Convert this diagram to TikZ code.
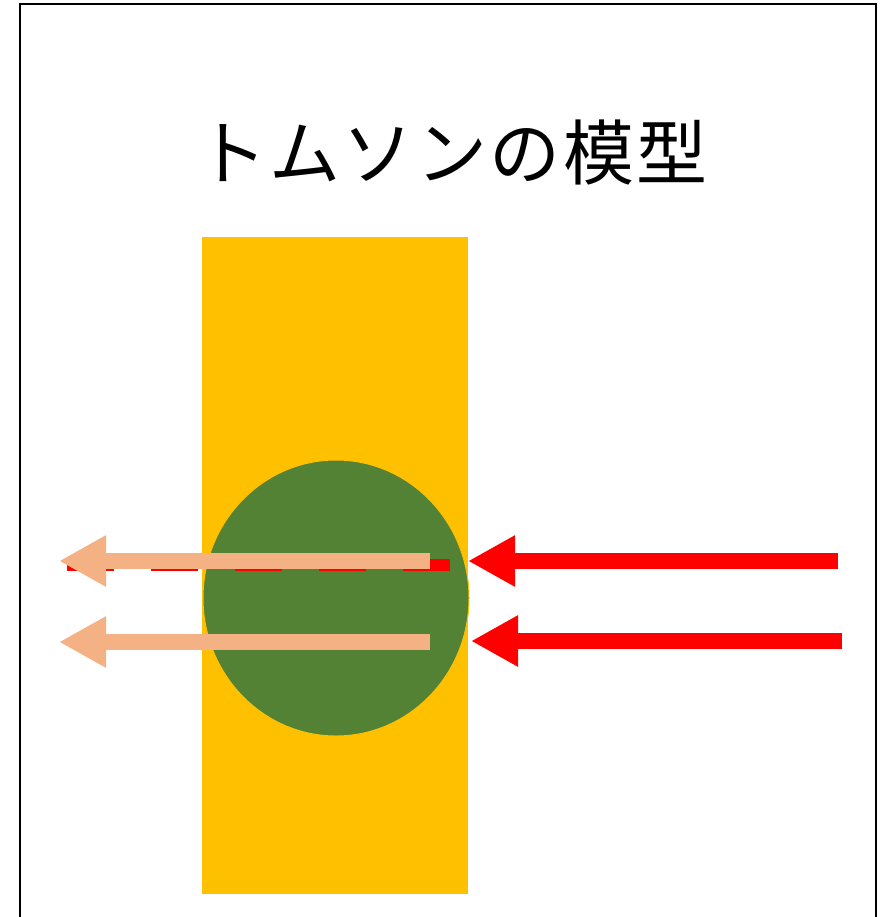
\documentclass[tikz,border=0pt]{standalone}
\usepackage{fontspec}
\newfontfamily\cjk[LetterSpace=3.5]{Noto Sans CJK JP}
\usetikzlibrary{arrows.meta,shapes.geometric}
\definecolor{myyellow}{HTML}{FFC000}
\definecolor{mygreen}{HTML}{548235}
\definecolor{mypeach}{HTML}{F4B183}
\definecolor{myred}{HTML}{FF0000}
\tikzset{
  bigarrow/.style={line width=16pt, -{Triangle[length=47pt,width=48pt]}},
  redarrow/.style={bigarrow, draw=myred},
  peacharrow/.style={bigarrow, draw=mypeach},
}
\begin{document}
\begin{tikzpicture}[x=1pt,y=-1pt]
\useasboundingbox (0,0) rectangle (889,917);
\fill[white] (0,0) rectangle (889,917);
\begin{scope}
\clip (0,0) rectangle (889,917);
\draw[line width=2pt] (20,4) rectangle (876,940);
\end{scope}
\node[font=\cjk\fontsize{71}{80}\selectfont, inner sep=0pt] (title) at (452,153) {トムソンの模型};
\node[fill=myyellow, minimum width=266pt, minimum height=657pt, inner sep=0pt, draw=none] (slab) at (335,565.5) {};
\node[ellipse, fill=mygreen, draw=myyellow, line width=1pt, minimum width=266pt, minimum height=276pt, inner sep=0pt] (atom) at (336,598) {};
% dashed red line
\coordinate (d1) at (450,565);
\coordinate (d2) at (67,565);
\draw[myred, line width=12pt, dash pattern=on 47pt off 37pt] (d2) -- (d1);
% red incoming arrows
\coordinate (r1s) at (838,561);
\coordinate (r1e) at (468,561);
\coordinate (r2s) at (842,641);
\coordinate (r2e) at (471,641);
\draw[redarrow] (r1s) -- (r1e);
\draw[redarrow] (r2s) -- (r2e);
% peach outgoing arrows
\coordinate (p1s) at (430,561);
\coordinate (p1e) at (59,561);
\coordinate (p2s) at (430,642);
\coordinate (p2e) at (59,642);
\draw[peacharrow] (p1s) -- (p1e);
\draw[peacharrow] (p2s) -- (p2e);
\end{tikzpicture}
\end{document}
